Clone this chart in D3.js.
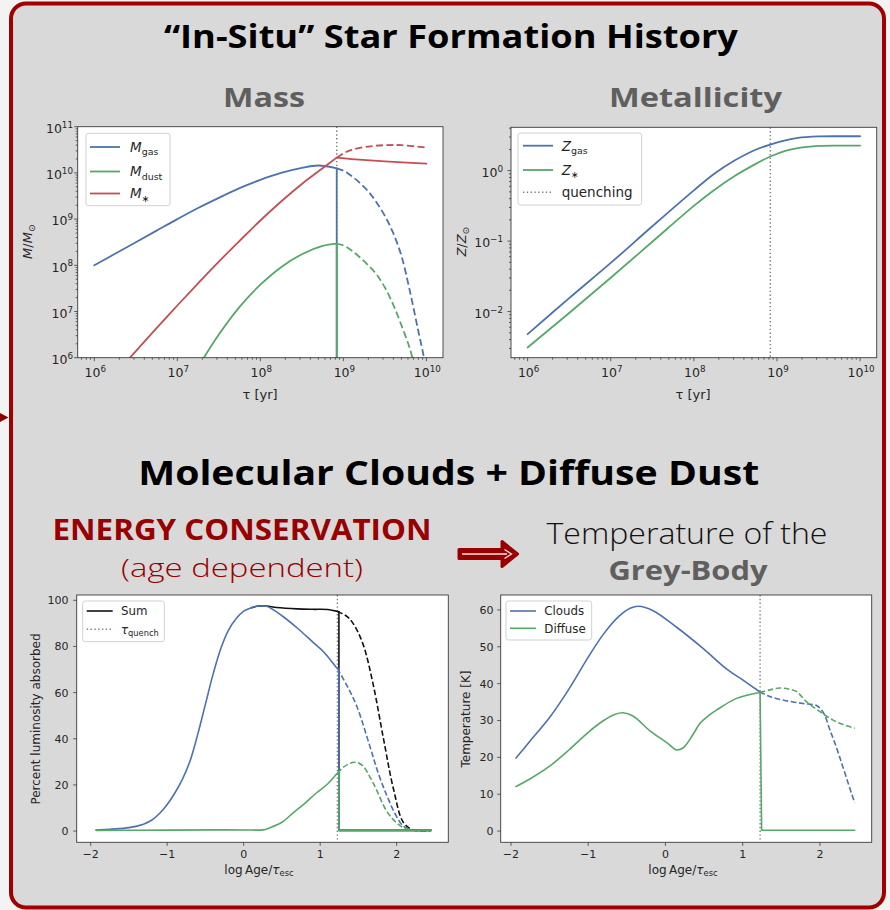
<!DOCTYPE html>
<html>
<head>
<meta charset="utf-8">
<script src="https://cdn.jsdelivr.net/npm/d3@7"></script>
<style>
  html, body { margin: 0; padding: 0; background: #f3f3f3; }
  svg { display: block; }
</style>
</head>
<body>
<svg id="slide" width="890" height="910"></svg>
<script>
// ===================== DATA =====================
// Star-formation history, log10(tau / yr) vs log10(M / Msun)
const quenchLogTau = 8.92;
const massZeroLog = 5;               // gas and dust vanish after quenching (below the axis)

const gasLogTau      = [6.0, 6.25, 6.5, 6.75, 7.0, 7.25, 7.5, 7.75, 8.0, 8.25, 8.5, 8.7, 8.92];
const gasLogMass     = [8.0, 8.25, 8.5, 8.75, 9.0, 9.24, 9.46, 9.67, 9.85, 10.0, 10.11, 10.16, 10.1];
const gasOpenLogTau  = [8.92, 9.0, 9.1, 9.2, 9.3, 9.4, 9.5, 9.6, 9.7, 9.8, 9.9, 9.97, 10.0];
const gasOpenLogMass = [10.1, 10.05, 9.93, 9.78, 9.6, 9.36, 9.07, 8.7, 8.2, 7.45, 6.6, 6.0, 5.6];

const dustLogTau      = [7.2, 7.32, 7.5, 7.75, 8.0, 8.25, 8.5, 8.75, 8.92];
const dustLogMass     = [5.64, 6.0, 6.5, 7.1, 7.58, 7.96, 8.24, 8.42, 8.47];
const dustOpenLogTau  = [8.92, 9.0, 9.1, 9.2, 9.3, 9.4, 9.5, 9.6, 9.7, 9.8, 9.86];
const dustOpenLogMass = [8.47, 8.43, 8.32, 8.17, 8.0, 7.8, 7.52, 7.15, 6.7, 6.2, 5.8];

const starLogTau       = [6.3, 6.43, 6.75, 7.0, 7.25, 7.5, 7.75, 8.0, 8.25, 8.5, 8.75, 8.92];
const starLogMass      = [5.75, 6.0, 6.64, 7.13, 7.61, 8.08, 8.53, 8.97, 9.38, 9.76, 10.1, 10.33];
const starAfterLogTau  = [8.92, 9.1, 9.5, 10.0];
const starAfterLogMass = [10.33, 10.3, 10.25, 10.2];
const starOpenLogTau   = [8.92, 9.0, 9.1, 9.3, 9.5, 9.7, 10.0];
const starOpenLogMass  = [10.33, 10.42, 10.5, 10.57, 10.6, 10.6, 10.55];

// Metallicity, log10(Z / Zsun)
const metLogTau  = [6.0, 6.5, 7.0, 7.5, 8.0, 8.25, 8.5, 8.75, 8.92, 9.1, 9.25, 9.5, 9.75, 10.0];
const zGasLog    = [-2.32, -1.81, -1.31, -0.79, -0.28, -0.04, 0.15, 0.30, 0.37, 0.43, 0.465, 0.485, 0.488, 0.488];
const zStarLog   = [-2.51, -2.02, -1.52, -1.01, -0.50, -0.27, -0.07, 0.10, 0.20, 0.28, 0.32, 0.35, 0.355, 0.355];

// Absorbed luminosity (%) vs log Age / tau_esc
const quenchLogAge = 1.225;
const dropLogAge   = 1.245;
const endLogAge    = 2.45;
const offLevelAbs  = 0.3;

const cloudAbsX = [-1.93, -1.75, -1.5, -1.31, -1.2, -1.1, -1.0, -0.9, -0.8, -0.7, -0.6, -0.5, -0.4, -0.3, -0.2, -0.1, 0.0, 0.1, 0.2, 0.3, 0.5, 0.7, 0.9, 1.05, 1.225, 1.245];
const cloudAbsY = [0.4, 0.8, 1.5, 3.0, 4.8, 7.6, 11.5, 16.5, 22.5, 30.5, 42, 55, 68, 79, 87, 92, 95.3, 96.8, 97.5, 97.4, 93.3, 88, 82, 77.5, 70.5, 70.2];
const cloudAbsOpenX = [1.225, 1.35, 1.48, 1.65, 1.76, 1.87, 1.98, 2.09, 2.2, 2.3, 2.45];
const cloudAbsOpenY = [70.5, 63, 54, 36.7, 25, 15.5, 7.5, 2.0, 0.5, 0.3, 0.3];

const diffuseAbsX = [-1.93, -1.0, -0.3, 0.1, 0.25, 0.34, 0.5, 0.65, 0.8, 0.95, 1.1, 1.225, 1.245];
const diffuseAbsY = [0.3, 0.4, 0.5, 0.45, 0.5, 1.4, 3.8, 8, 12, 16.5, 20.5, 25, 25.3];
const diffuseAbsOpenX = [1.225, 1.3, 1.38, 1.46, 1.55, 1.69, 1.87, 2.0, 2.09, 2.2, 2.45];
const diffuseAbsOpenY = [25, 27.6, 29.2, 29.8, 28.5, 21, 8.6, 3.5, 1.4, 0.4, 0.3];

// total; below log Age ~ 0.1 it lies on the clouds curve
const sumAbsX = [0.1, 0.2, 0.3, 0.43, 0.7, 0.9, 1.1, 1.225, 1.245];
const sumAbsY = [96.8, 97.5, 97.5, 96.9, 96.3, 96.1, 96.0, 95.2, 95.0];
const sumAbsOpenX = [1.225, 1.35, 1.43, 1.56, 1.69, 1.83, 1.96, 2.09, 2.22, 2.45];
const sumAbsOpenY = [95.2, 93, 90, 81, 64, 39.6, 18, 3.6, 0.5, 0.3];

// Grey-body temperature (K) vs log Age / tau_esc
const offLevelT = 0.2;
const cloudTX = [-1.935, -1.75, -1.5, -1.25, -1.0, -0.8, -0.6, -0.45, -0.35, -0.16, 0.145, 0.49, 0.79, 1.0, 1.22];
const cloudTY = [19.8, 24.5, 30.8, 38.5, 47.2, 53.5, 58.3, 60.5, 61, 59.8, 55.3, 49.5, 44, 41, 37.8];
const cloudTOpenX = [1.22, 1.35, 1.53, 1.78, 1.96, 2.05, 2.13, 2.22, 2.30, 2.45];
const cloudTOpenY = [37.8, 36.5, 35.5, 34.6, 34.0, 31.9, 27.4, 22.3, 17.2, 7.6];

const diffuseTX = [-1.935, -1.75, -1.5, -1.25, -1.0, -0.8, -0.65, -0.55, -0.42, -0.2, 0.03, 0.145, 0.23, 0.35, 0.45, 0.55, 0.66, 0.92, 1.22];
const diffuseTY = [12.1, 14.2, 17.6, 22, 26.8, 30.0, 31.7, 32.1, 31.2, 27.2, 23.8, 22.0, 22.6, 26, 29.3, 31.2, 32.8, 36, 37.6];
const diffuseTOpenX = [1.22, 1.35, 1.48, 1.6, 1.70, 1.83, 2.0, 2.17, 2.3, 2.45];
const diffuseTOpenY = [37.6, 38.3, 38.8, 38.5, 37.8, 35, 32.4, 30.1, 28.9, 27.9];

// Tick values
const timeTickExps = [6, 7, 8, 9, 10];
const massTickExps = [6, 7, 8, 9, 10, 11];
const metTickExps  = [-2, -1, 0];
const ageTicks     = [-2, -1, 0, 1, 2];
const absTicks     = [0, 20, 40, 60, 80, 100];
const tempTicks    = [0, 10, 20, 30, 40, 50, 60];

// ===================== STYLE =====================
const MPL = "'DejaVu Sans', sans-serif";
const SLIDE = "'Open Sans', 'Noto Sans', sans-serif";
const COL = { blue: "#4c72b0", green: "#55a868", red: "#c44e52", black: "#111111", quench: "#808080",
              axis: "#3a3a3a", text: "#262626", maroon: "#990000", grey: "#5f5f5f" };

const svg = d3.select("#slide");
const defs = svg.append("defs");

// ===================== SLIDE FRAME =====================
svg.append("rect")
  .attr("x", 11).attr("y", 3.5).attr("width", 873).attr("height", 904).attr("rx", 15)
  .attr("fill", "#d9d9d9").attr("stroke", "#a00000").attr("stroke-width", 4);
svg.append("path").attr("d", "M0,413 L8.5,417.5 L0,422 Z").attr("fill", "#8f0000");

function slideText(str, cx, baseline, size, opts = {}) {
  return svg.append("text")
    .attr("x", cx).attr("y", baseline)
    .attr("text-anchor", "middle")
    .attr("font-family", SLIDE)
    .attr("font-size", size)
    .attr("font-weight", opts.weight || 700)
    .attr("fill", opts.fill || "#000")
    .attr("textLength", opts.len || null)
    .attr("lengthAdjust", "spacingAndGlyphs")
    .text(str);
}

slideText("\u201CIn-Situ\u201D Star Formation History", 451, 48, 33, { len: 574 });
slideText("Mass", 264, 107, 27, { len: 82, fill: COL.grey });
slideText("Metallicity", 695.5, 107, 27, { len: 173, fill: COL.grey });
slideText("Molecular Clouds + Diffuse Dust", 448.7, 485, 34, { len: 621 });
slideText("ENERGY CONSERVATION", 242, 539.5, 28, { len: 379, fill: COL.maroon });
slideText("(age dependent)", 242, 577, 26.5, { len: 242, fill: COL.maroon, weight: 300 });
slideText("Temperature of the", 687, 544, 30, { len: 281, fill: "#111", weight: 300 });
slideText("Grey-Body", 688, 580, 27, { len: 159, fill: COL.grey });

// arrow between the two bottom headings
svg.append("path")
  .attr("d", "M459,549.5 H502 V541.5 L517.5,554 L502,566.5 V558.5 H459 Z")
  .attr("fill", "#990000").attr("stroke", "#990000").attr("stroke-width", 3).attr("stroke-linejoin", "round");
svg.append("path")
  .attr("d", "M462,554 H507 M504.5,549.5 L511.5,554 L504.5,558.5")
  .attr("fill", "none").attr("stroke", "#f4e6e6").attr("stroke-width", 1.3);

// ===================== PANEL HELPERS =====================
function rich(sel, parts, fs) {
  let shift = 0;
  parts.forEach(p => {
    const ts = sel.append("tspan").text(p.t);
    if (p.i) ts.attr("font-style", "italic");
    let target = 0;
    if (p.sub) target = 0.24 * fs;
    if (p.sup) target = -0.42 * fs;
    if (target !== shift) { ts.attr("dy", target - shift); shift = target; }
    if (p.sub || p.sup) ts.attr("font-size", 0.7 * fs);
  });
  return sel;
}

function makePanel(cfg) {
  const g = svg.append("g").attr("font-family", MPL);
  g.append("rect").attr("x", cfg.left).attr("y", cfg.top)
    .attr("width", cfg.right - cfg.left).attr("height", cfg.bottom - cfg.top).attr("fill", "#fff");
  defs.append("clipPath").attr("id", cfg.id).append("rect")
    .attr("x", cfg.left).attr("y", cfg.top)
    .attr("width", cfg.right - cfg.left).attr("height", cfg.bottom - cfg.top);
  const plot = g.append("g").attr("clip-path", `url(#${cfg.id})`);
  return Object.assign({ g, plot }, cfg);
}

function drawSeries(p, xs, ys, style) {
  const pts = xs.map((v, i) => [p.x(v), p.y(ys[i])]);
  const gen = d3.line().curve(style.linear ? d3.curveLinear : d3.curveCatmullRom.alpha(0.5));
  p.plot.append("path").attr("d", gen(pts))
    .attr("fill", "none").attr("stroke", style.color).attr("stroke-width", style.width)
    .attr("stroke-dasharray", style.dash || null)
    .attr("stroke-linejoin", "round")
    .attr("stroke-linecap", style.dash ? "butt" : "round");
}

function drawQuench(p, xv, width) {
  p.plot.append("line")
    .attr("x1", p.x(xv)).attr("x2", p.x(xv)).attr("y1", p.top).attr("y2", p.bottom)
    .attr("stroke", COL.quench).attr("stroke-width", width).attr("stroke-dasharray", "1.4,2.4");
}

function finishFrame(p) {
  p.g.append("rect").attr("x", p.left).attr("y", p.top)
    .attr("width", p.right - p.left).attr("height", p.bottom - p.top)
    .attr("fill", "none").attr("stroke", COL.axis).attr("stroke-width", 0.9);
}

function tickMark(p, axis, pos, len) {
  if (axis === "x") {
    p.g.append("line").attr("x1", pos).attr("x2", pos).attr("y1", p.bottom).attr("y2", p.bottom + len)
      .attr("stroke", COL.axis).attr("stroke-width", 0.8);
  } else {
    p.g.append("line").attr("y1", pos).attr("y2", pos).attr("x1", p.left).attr("x2", p.left - len)
      .attr("stroke", COL.axis).attr("stroke-width", 0.8);
  }
}

function expLabel(e) { return (e < 0 ? "\u2212" : "") + Math.abs(e); }

// log axis: positions from scale over exponent values
function logAxis(p, axis, scale, exps, fs, labelPos) {
  const [lo, hi] = d3.extent(scale.domain().map(Math.log10));
  for (let n = Math.floor(lo); n <= Math.ceil(hi); n++) {
    for (let k = 2; k <= 9; k++) {
      const v = Math.log10(k) + n;
      if (v > lo && v < hi) tickMark(p, axis, axis === "x" ? p.x(v) : p.y(v), 2);
    }
  }
  exps.forEach(e => {
    const pos = axis === "x" ? p.x(e) : p.y(e);
    tickMark(p, axis, pos, 3.5);
    const t = p.g.append("text").attr("font-size", fs).attr("fill", COL.text);
    if (axis === "x") t.attr("x", pos + 1).attr("y", labelPos).attr("text-anchor", "middle");
    else t.attr("x", labelPos).attr("y", pos + 0.5 * fs).attr("text-anchor", "end");
    rich(t, [{ t: "10" }, { t: expLabel(e), sup: true }], fs);
  });
}

function linAxis(p, axis, ticks, fs, labelPos) {
  ticks.forEach(v => {
    const pos = axis === "x" ? p.x(v) : p.y(v);
    tickMark(p, axis, pos, 3.5);
    const t = p.g.append("text").attr("font-size", fs).attr("fill", COL.text)
      .text(v < 0 ? "\u2212" + Math.abs(v) : String(v));
    if (axis === "x") t.attr("x", pos).attr("y", labelPos).attr("text-anchor", "middle");
    else t.attr("x", labelPos).attr("y", pos + 0.36 * fs).attr("text-anchor", "end");
  });
}

function axisTitle(p, parts, x, y, fs, rotate) {
  const t = p.g.append("text").attr("font-size", fs).attr("fill", COL.text).attr("text-anchor", "middle");
  if (rotate) t.attr("transform", `translate(${x},${y}) rotate(-90)`).attr("x", 0).attr("y", 0.35 * fs);
  else t.attr("x", x).attr("y", y);
  rich(t, parts, fs);
}

function legend(p, box, entries, fs) {
  p.g.append("rect").attr("x", box.x0).attr("y", box.y0)
    .attr("width", box.x1 - box.x0).attr("height", box.y1 - box.y0).attr("rx", 2.5)
    .attr("fill", "#fff").attr("fill-opacity", 0.85).attr("stroke", "#cccccc").attr("stroke-width", 0.9);
  entries.forEach((en, i) => {
    const yy = box.rows[i];
    p.g.append("line").attr("x1", box.l0).attr("x2", box.l1).attr("y1", yy).attr("y2", yy)
      .attr("stroke", en.color).attr("stroke-width", en.width)
      .attr("stroke-dasharray", en.dash || null);
    const t = p.g.append("text").attr("x", box.tx).attr("y", yy + 0.36 * fs)
      .attr("font-size", fs).attr("fill", COL.text);
    rich(t, en.label, fs);
  });
}

// ===================== PANEL 1: MASS =====================
{
  const xs = d3.scaleLog().domain([10 ** 5.8, 10 ** 10.2]).range([77.7, 443]);
  const ys = d3.scaleLog().domain([1e6, 1e11]).range([357.7, 126.7]);
  const p = makePanel({ id: "clipMass", left: 77.7, right: 443, top: 126.7, bottom: 357.7,
    x: v => xs(10 ** v), y: v => ys(10 ** v) });
  const lw = 1.8, dash = "7,3.4";

  drawQuench(p, quenchLogTau, 1.5);
  // gas
  drawSeries(p, gasLogTau, gasLogMass, { color: COL.blue, width: lw });
  drawSeries(p, [quenchLogTau, quenchLogTau], [gasLogMass[gasLogMass.length - 1], massZeroLog], { color: COL.blue, width: lw, linear: true });
  drawSeries(p, gasOpenLogTau, gasOpenLogMass, { color: COL.blue, width: lw, dash });
  // dust
  drawSeries(p, dustLogTau, dustLogMass, { color: COL.green, width: lw });
  drawSeries(p, [quenchLogTau, quenchLogTau], [dustLogMass[dustLogMass.length - 1], massZeroLog], { color: COL.green, width: lw, linear: true });
  drawSeries(p, dustOpenLogTau, dustOpenLogMass, { color: COL.green, width: lw, dash });
  // stars
  drawSeries(p, starLogTau, starLogMass, { color: COL.red, width: lw });
  drawSeries(p, starAfterLogTau, starAfterLogMass, { color: COL.red, width: lw });
  drawSeries(p, starOpenLogTau, starOpenLogMass, { color: COL.red, width: lw, dash });

  finishFrame(p);
  logAxis(p, "x", xs, timeTickExps, 12.5, 377);
  logAxis(p, "y", ys, massTickExps, 12.5, 73);
  axisTitle(p, [{ t: "\u03C4 [yr]" }], 260, 398.5, 13);
  axisTitle(p, [{ t: "M", i: true }, { t: "/" }, { t: "M", i: true }, { t: "\u2299", sub: true }], 27.5, 241.7, 13, true);

  legend(p, { x0: 86, y0: 133.3, x1: 170, y1: 205.7, rows: [147, 171.5, 193.5], l0: 90, l1: 120, tx: 130 }, [
    { color: COL.blue, width: lw, label: [{ t: "M", i: true }, { t: "gas", sub: true }] },
    { color: COL.green, width: lw, label: [{ t: "M", i: true }, { t: "dust", sub: true }] },
    { color: COL.red, width: lw, label: [{ t: "M", i: true }, { t: "\u2217", sub: true }] }
  ], 13.5);
}

// ===================== PANEL 2: METALLICITY =====================
{
  const xs = d3.scaleLog().domain([10 ** 5.8, 10 ** 10.2]).range([511, 876.7]);
  const ys = d3.scaleLog().domain([10 ** -2.655, 10 ** 0.615]).range([357.7, 127.3]);
  const p = makePanel({ id: "clipMet", left: 511, right: 876.7, top: 127.3, bottom: 357.7,
    x: v => xs(10 ** v), y: v => ys(10 ** v) });
  const lw = 1.8;

  drawQuench(p, quenchLogTau, 1.5);
  drawSeries(p, metLogTau, zGasLog, { color: COL.blue, width: lw });
  drawSeries(p, metLogTau, zStarLog, { color: COL.green, width: lw });

  finishFrame(p);
  logAxis(p, "x", xs, timeTickExps, 12.5, 377);
  logAxis(p, "y", ys, metTickExps, 12.5, 503);
  axisTitle(p, [{ t: "\u03C4 [yr]" }], 693, 398.5, 13);
  axisTitle(p, [{ t: "Z", i: true }, { t: "/" }, { t: "Z", i: true }, { t: "\u2299", sub: true }], 461, 241.7, 13, true);

  legend(p, { x0: 518, y0: 133, x1: 641.7, y1: 205, rows: [145.7, 170, 192.3], l0: 523, l1: 553, tx: 561.7 }, [
    { color: COL.blue, width: lw, label: [{ t: "Z", i: true }, { t: "gas", sub: true }] },
    { color: COL.green, width: lw, label: [{ t: "Z", i: true }, { t: "\u2217", sub: true }] },
    { color: COL.quench, width: 1.5, dash: "1.4,2.4", label: [{ t: "quenching" }] }
  ], 13.5);
}

// ===================== PANEL 3: ABSORBED LUMINOSITY =====================
{
  const xs = d3.scaleLinear().domain([-2.183, 2.675]).range([76.7, 448.3]);
  const ys = d3.scaleLinear().domain([-4.87, 102.3]).range([842.3, 595]);
  const p = makePanel({ id: "clipAbs", left: 76.7, right: 448.3, top: 595, bottom: 842.3, x: xs, y: ys });
  const lw = 1.6, dash = "5.6,2.6";
  const offX = [dropLogAge, dropLogAge, endLogAge];
  const last = a => a[a.length - 1];

  drawQuench(p, quenchLogAge, 1.4);
  // total
  drawSeries(p, sumAbsX, sumAbsY, { color: COL.black, width: lw });
  drawSeries(p, offX, [last(sumAbsY), offLevelAbs, offLevelAbs], { color: COL.black, width: lw, linear: true });
  drawSeries(p, sumAbsOpenX, sumAbsOpenY, { color: COL.black, width: lw, dash });
  // molecular clouds
  drawSeries(p, cloudAbsX, cloudAbsY, { color: COL.blue, width: lw });
  drawSeries(p, offX, [last(cloudAbsY), offLevelAbs, offLevelAbs], { color: COL.blue, width: lw, linear: true });
  drawSeries(p, cloudAbsOpenX, cloudAbsOpenY, { color: COL.blue, width: lw, dash });
  // diffuse dust
  drawSeries(p, diffuseAbsX, diffuseAbsY, { color: COL.green, width: lw });
  drawSeries(p, offX, [last(diffuseAbsY), offLevelAbs, offLevelAbs], { color: COL.green, width: lw, linear: true });
  drawSeries(p, diffuseAbsOpenX, diffuseAbsOpenY, { color: COL.green, width: lw, dash });

  finishFrame(p);
  linAxis(p, "x", ageTicks, 11, 858);
  linAxis(p, "y", absTicks, 11, 68.5);
  axisTitle(p, [{ t: "log\u2009Age/" }, { t: "\u03C4", i: true }, { t: "esc", sub: true }], 259, 873.5, 12);
  axisTitle(p, [{ t: "Percent luminosity absorbed" }], 36, 719, 12, true);

  legend(p, { x0: 82.7, y0: 601, x1: 164.3, y1: 641.7, rows: [611, 629.3], l0: 86.7, l1: 112.7, tx: 121 }, [
    { color: COL.black, width: lw, label: [{ t: "Sum" }] },
    { color: COL.quench, width: 1.4, dash: "1.4,2.4", label: [{ t: "\u03C4", i: true }, { t: "quench", sub: true }] }
  ], 11.8);
}

// ===================== PANEL 4: TEMPERATURE =====================
{
  const xs = d3.scaleLinear().domain([-2.133, 2.67]).range([500.7, 871.7]);
  const ys = d3.scaleLinear().domain([-3.05, 64.05]).range([842.3, 595]);
  const p = makePanel({ id: "clipTemp", left: 500.7, right: 871.7, top: 595, bottom: 842.3, x: xs, y: ys });
  const lw = 1.6, dash = "5.6,2.6";

  drawQuench(p, quenchLogAge, 1.4);
  drawSeries(p, cloudTX, cloudTY, { color: COL.blue, width: lw });
  drawSeries(p, cloudTOpenX, cloudTOpenY, { color: COL.blue, width: lw, dash });
  drawSeries(p, diffuseTX, diffuseTY, { color: COL.green, width: lw });
  drawSeries(p, [quenchLogAge, dropLogAge, endLogAge], [diffuseTY[diffuseTY.length - 1], offLevelT, offLevelT], { color: COL.green, width: lw, linear: true });
  drawSeries(p, diffuseTOpenX, diffuseTOpenY, { color: COL.green, width: lw, dash });

  finishFrame(p);
  linAxis(p, "x", ageTicks, 11, 858);
  linAxis(p, "y", tempTicks, 11, 493.5);
  axisTitle(p, [{ t: "log\u2009Age/" }, { t: "\u03C4", i: true }, { t: "esc", sub: true }], 683, 873.5, 12);
  axisTitle(p, [{ t: "Temperature [K]" }], 466, 719, 12, true);

  legend(p, { x0: 506, y0: 601, x1: 591.7, y1: 640, rows: [611, 628.3], l0: 510, l1: 536, tx: 544.3 }, [
    { color: COL.blue, width: lw, label: [{ t: "Clouds" }] },
    { color: COL.green, width: lw, label: [{ t: "Diffuse" }] }
  ], 11.8);
}
</script>
</body>
</html>
